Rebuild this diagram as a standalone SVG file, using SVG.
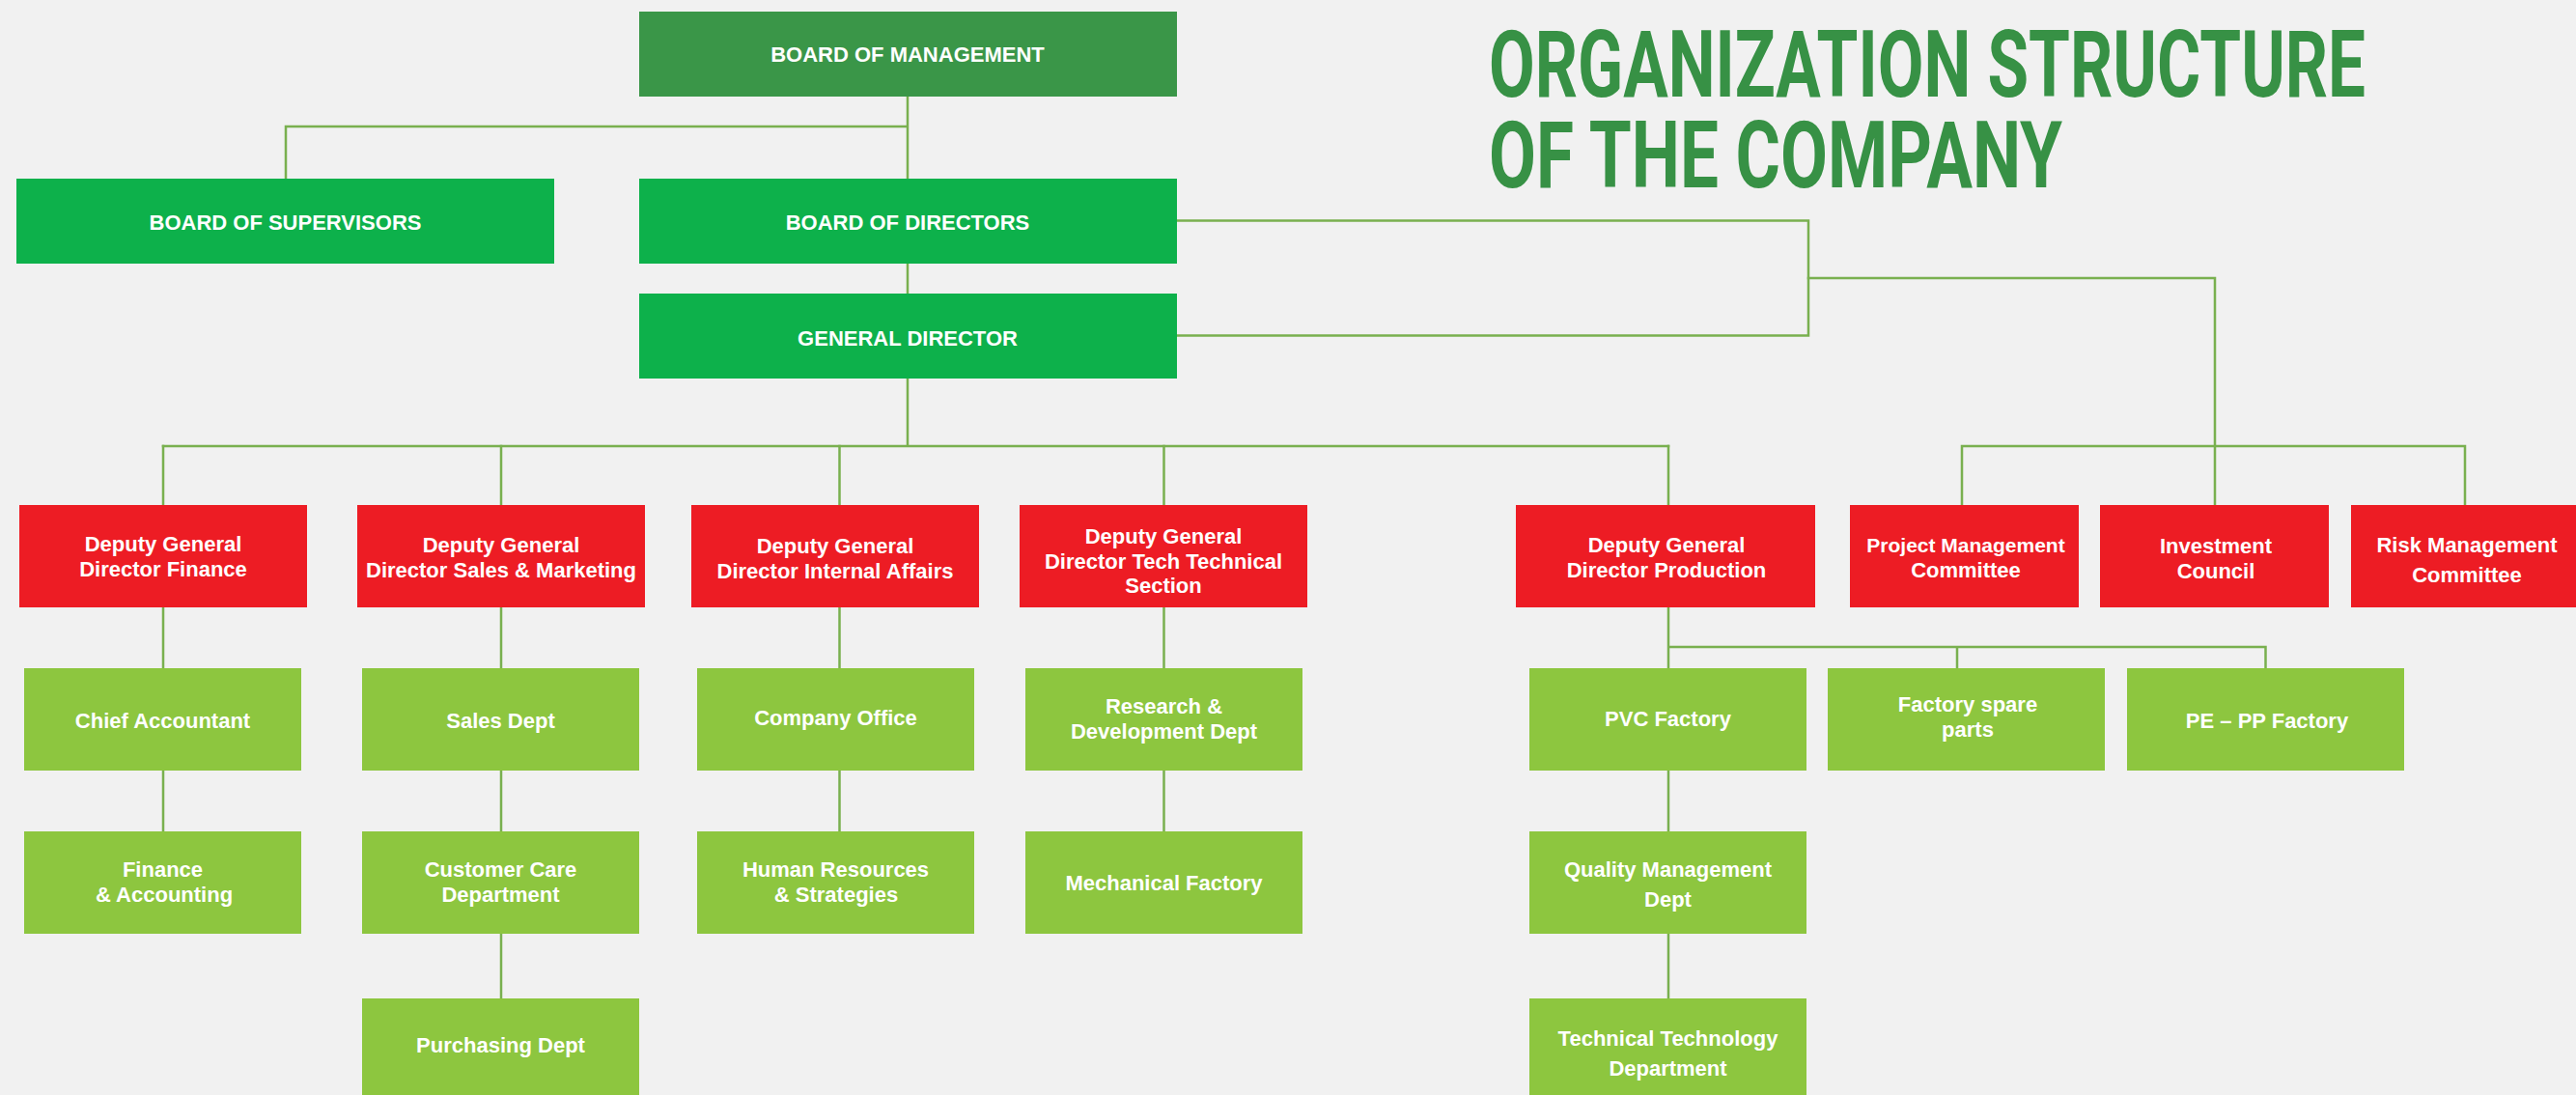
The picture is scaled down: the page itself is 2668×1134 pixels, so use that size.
<svg xmlns="http://www.w3.org/2000/svg" width="2668" height="1134" viewBox="0 0 2668 1134">
  <style>
    .bom { fill: #3a9648; }
    .top { fill: #0db14b; }
    .dep { fill: #ed1c24; }
    .unit { fill: #8dc63f; }
    .lbl { font-family: "Liberation Sans", Arial, Helvetica, sans-serif; font-weight: 700; font-size: 22px; fill: #ffffff; text-anchor: middle; }
    .title { font-family: Roboto, "Liberation Sans", sans-serif; font-weight: 700; font-size: 97px; fill: #379145; }
    .ln { fill: none; stroke: #79b04f; stroke-width: 2.5; stroke-linecap: square; }
  </style>

  <rect x="0" y="0" width="2668" height="1134" fill="#f1f1f1"/>

  <!-- heading, set in a horizontally condensed cut -->
  <g id="title">
    <text class="title" transform="translate(1542 100) scale(0.65 1)" x="0" y="0" textLength="1397" lengthAdjust="spacingAndGlyphs">ORGANIZATION STRUCTURE</text>
    <text class="title" transform="translate(1542 194) scale(0.65 1)" x="0" y="0" textLength="914" lengthAdjust="spacingAndGlyphs">OF THE COMPANY</text>
  </g>

  <!-- reporting lines -->
  <g id="connectors">
    <path class="ln" d="M940 100 V185 M296 131 H940 M296 131 V185"/>
    <path class="ln" d="M940 273 V304"/>
    <path class="ln" d="M1219 228.5 H1873 V347.5 H1219"/>
    <path class="ln" d="M1873 288 H2294 V523"/>
    <path class="ln" d="M2032 523 V462 H2553 V523"/>
    <path class="ln" d="M940 392 V462 M169 462 H1728"/>
    <path class="ln" d="M169 462 V523 M519 462 V523 M869.5 462 V523 M1205.5 462 V523 M1728 462 V523"/>
    <path class="ln" d="M169 629 V692 M519 629 V692 M869.5 629 V692 M1205.5 629 V692"/>
    <path class="ln" d="M169 798 V861 M519 798 V861 M869.5 798 V861 M1205.5 798 V861"/>
    <path class="ln" d="M519 967 V1034"/>
    <path class="ln" d="M1728 629 V692 M1728 670 H2346.5 M2027 670 V692 M2346.5 670 V692"/>
    <path class="ln" d="M1728 798 V861 M1728 967 V1034"/>
  </g>

  <!-- boards -->
  <g id="board-management">
    <rect class="bom" x="662" y="12" width="557" height="88"/>
    <text class="lbl" x="940" y="64">BOARD OF MANAGEMENT</text>
  </g>
  <g id="board-supervisors">
    <rect class="top" x="17" y="185" width="557" height="88"/>
    <text class="lbl" x="295.5" y="238">BOARD OF SUPERVISORS</text>
  </g>
  <g id="board-directors">
    <rect class="top" x="662" y="185" width="557" height="88"/>
    <text class="lbl" x="940" y="238">BOARD OF DIRECTORS</text>
  </g>
  <g id="general-director">
    <rect class="top" x="662" y="304" width="557" height="88"/>
    <text class="lbl" x="940" y="358">GENERAL DIRECTOR</text>
  </g>

  <!-- deputies and committees -->
  <g id="dgd-finance">
    <rect class="dep" x="20" y="523" width="298" height="106"/>
    <text class="lbl" x="169" y="571">Deputy General</text>
    <text class="lbl" x="169" y="597">Director Finance</text>
  </g>
  <g id="dgd-sales">
    <rect class="dep" x="370" y="523" width="298" height="106"/>
    <text class="lbl" x="519" y="571.5">Deputy General</text>
    <text class="lbl" x="519" y="597.5">Director Sales &amp; Marketing</text>
  </g>
  <g id="dgd-internal">
    <rect class="dep" x="716" y="523" width="298" height="106"/>
    <text class="lbl" x="865" y="572.5">Deputy General</text>
    <text class="lbl" x="865" y="598.5">Director Internal Affairs</text>
  </g>
  <g id="dgd-tech">
    <rect class="dep" x="1056" y="523" width="298" height="106"/>
    <text class="lbl" x="1205" y="563">Deputy General</text>
    <text class="lbl" x="1205" y="588.5">Director Tech Technical</text>
    <text class="lbl" x="1205" y="614">Section</text>
  </g>
  <g id="dgd-production">
    <rect class="dep" x="1570" y="523" width="310" height="106"/>
    <text class="lbl" x="1726" y="571.5">Deputy General</text>
    <text class="lbl" x="1726" y="597.5">Director Production</text>
  </g>
  <g id="project-committee">
    <rect class="dep" x="1916" y="523" width="237" height="106"/>
    <text class="lbl" x="2036" y="571.5" style="font-size:21px">Project Management</text>
    <text class="lbl" x="2036" y="597.5">Committee</text>
  </g>
  <g id="investment-council">
    <rect class="dep" x="2175" y="523" width="237" height="106"/>
    <text class="lbl" x="2295" y="573">Investment</text>
    <text class="lbl" x="2295" y="599">Council</text>
  </g>
  <g id="risk-committee">
    <rect class="dep" x="2435" y="523" width="233" height="106"/>
    <text class="lbl" x="2555" y="572">Risk Management</text>
    <text class="lbl" x="2555" y="602.5">Committee</text>
  </g>

  <!-- departments, first row -->
  <g id="chief-accountant">
    <rect class="unit" x="25" y="692" width="287" height="106"/>
    <text class="lbl" x="168.5" y="754">Chief Accountant</text>
  </g>
  <g id="sales-dept">
    <rect class="unit" x="375" y="692" width="287" height="106"/>
    <text class="lbl" x="518.5" y="754">Sales Dept</text>
  </g>
  <g id="company-office">
    <rect class="unit" x="722" y="692" width="287" height="106"/>
    <text class="lbl" x="865.5" y="751">Company Office</text>
  </g>
  <g id="rnd-dept">
    <rect class="unit" x="1062" y="692" width="287" height="106"/>
    <text class="lbl" x="1205.5" y="739">Research &amp;</text>
    <text class="lbl" x="1205.5" y="765">Development Dept</text>
  </g>
  <g id="pvc-factory">
    <rect class="unit" x="1584" y="692" width="287" height="106"/>
    <text class="lbl" x="1727.5" y="752">PVC Factory</text>
  </g>
  <g id="spare-parts">
    <rect class="unit" x="1893" y="692" width="287" height="106"/>
    <text class="lbl" x="2038" y="737">Factory spare</text>
    <text class="lbl" x="2038" y="763">parts</text>
  </g>
  <g id="pe-pp-factory">
    <rect class="unit" x="2203" y="692" width="287" height="106"/>
    <text class="lbl" x="2348" y="754">PE – PP Factory</text>
  </g>

  <!-- departments, second row -->
  <g id="finance-accounting">
    <rect class="unit" x="25" y="861" width="287" height="106"/>
    <text class="lbl" x="168.5" y="908">Finance</text>
    <text class="lbl" x="170" y="934">&amp; Accounting</text>
  </g>
  <g id="customer-care">
    <rect class="unit" x="375" y="861" width="287" height="106"/>
    <text class="lbl" x="518.5" y="908">Customer Care</text>
    <text class="lbl" x="518.5" y="934">Department</text>
  </g>
  <g id="human-resources">
    <rect class="unit" x="722" y="861" width="287" height="106"/>
    <text class="lbl" x="865.5" y="908">Human Resources</text>
    <text class="lbl" x="866" y="934">&amp; Strategies</text>
  </g>
  <g id="mechanical-factory">
    <rect class="unit" x="1062" y="861" width="287" height="106"/>
    <text class="lbl" x="1205.5" y="922">Mechanical Factory</text>
  </g>
  <g id="quality-dept">
    <rect class="unit" x="1584" y="861" width="287" height="106"/>
    <text class="lbl" x="1727.5" y="908">Quality Management</text>
    <text class="lbl" x="1727.5" y="939">Dept</text>
  </g>

  <!-- departments, third row -->
  <g id="purchasing-dept">
    <rect class="unit" x="375" y="1034" width="287" height="100"/>
    <text class="lbl" x="518.5" y="1090">Purchasing Dept</text>
  </g>
  <g id="tech-technology-dept">
    <rect class="unit" x="1584" y="1034" width="287" height="100"/>
    <text class="lbl" x="1727.5" y="1083">Technical Technology</text>
    <text class="lbl" x="1727.5" y="1114">Department</text>
  </g>
</svg>
